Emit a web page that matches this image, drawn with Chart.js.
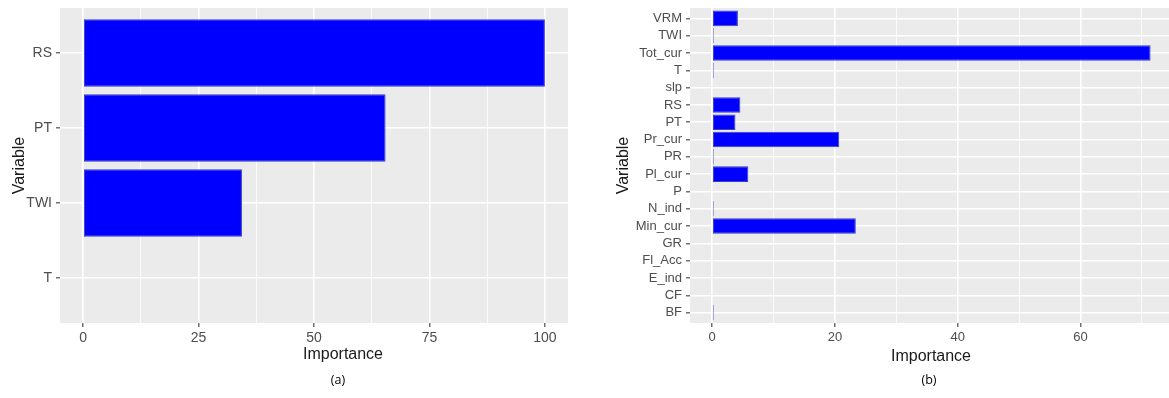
<!DOCTYPE html>
<html>
<head>
<meta charset="utf-8">
<script src="https://cdn.jsdelivr.net/npm/chart.js@4.4.1/dist/chart.umd.min.js"></script>
<style>
  html, body { margin: 0; padding: 0; background: #fff; overflow: hidden; width: 1169px; height: 398px; }
  .box { position: absolute; top: 0; height: 398px; }
  #boxA { left: 0; width: 590px; }
  #boxB { left: 590px; width: 579px; }
  .lbl { position: absolute; white-space: nowrap; transform: translateX(-50%); }
  .xt { font-family: "Liberation Sans", Arial, sans-serif; font-size: 16px; line-height: 19px; color: #1a1a1a; }
  .cap { font-family: "Open Sans", sans-serif; font-size: 12.5px; line-height: 16px; color: #000; }
</style>
</head>
<body>
<div class="box" id="boxA"><canvas id="chartA" width="590" height="398"></canvas></div>
<div class="box" id="boxB"><canvas id="chartB" width="579" height="398"></canvas></div>
<div class="lbl xt" style="left:343px; top:344px;">Importance</div>
<div class="lbl xt" style="left:931px; top:346px;">Importance</div>
<div class="lbl cap" style="left:338px; top:372px;">(a)</div>
<div class="lbl cap" style="left:929px; top:372px;">(b)</div>
<script>
// Panel (a): variable importance, four predictors (top to bottom)
const varsA = ['RS', 'PT', 'TWI', 'T'];
const importanceA = [100, 65.5, 34.4, 0];
const ticksA = [0, 25, 50, 75, 100];

// Panel (b): variable importance, eighteen predictors (top to bottom)
const varsB = ['VRM', 'TWI', 'Tot_cur', 'T', 'slp', 'RS', 'PT', 'Pr_cur', 'PR', 'Pl_cur',
               'P', 'N_ind', 'Min_cur', 'GR', 'Fl_Acc', 'E_ind', 'CF', 'BF'];
const importanceB = [4.2, 0.25, 71.4, 0.25, 0, 4.6, 3.8, 20.7, 0.25, 5.9,
                     0, 0.25, 23.4, 0, 0, 0, 0, 0.25];
const ticksB = [0, 20, 40, 60];

const FONT = '"Liberation Sans", Arial, sans-serif';
const TICK_COLOR = '#4d4d4d';
const PANEL = '#ebebeb';

// grey panel behind the grid
const panelBg = {
  id: 'panelBg',
  beforeDraw(chart) {
    const { ctx, chartArea: a } = chart;
    ctx.save();
    ctx.fillStyle = PANEL;
    ctx.fillRect(a.left, a.top, a.right - a.left, a.bottom - a.top);
    ctx.restore();
  }
};

// value axis with major breaks plus minor lines halfway between them
function valueAxis(majors, min, max, fontSize) {
  const step = majors[1] - majors[0];
  const isMajor = v => majors.some(m => Math.abs(m - v) < 1e-9);
  return {
    type: 'linear',
    min: min,
    max: max,
    offset: false,
    afterBuildTicks(scale) {
      const vals = [];
      const first = majors[0] - step / 2;
      const last = majors[majors.length - 1] + step / 2;
      for (let v = first; v <= last + 1e-9; v += step / 2) {
        if (v >= min && v <= max) vals.push(v);
      }
      scale.ticks = vals.map(v => ({ value: v }));
    },
    afterFit(scale) { scale.height = 75; },
    ticks: {
      autoSkip: false,
      maxRotation: 0,
      padding: 3,
      color: TICK_COLOR,
      font: { family: FONT, size: fontSize },
      callback: v => (isMajor(v) ? String(v) : '')
    },
    grid: {
      offset: false,
      color: '#ffffff',
      lineWidth: c => (c.tick && isMajor(c.tick.value) ? 1.6 : 0.8),
      drawTicks: true,
      tickLength: 4,
      tickWidth: 1.2,
      tickColor: c => (c.tick && isMajor(c.tick.value) ? TICK_COLOR : 'rgba(0,0,0,0)')
    },
    border: { display: false }
  };
}

// category axis drawn as a linear index so the outer padding follows the panel
function variableAxis(cats, pad, fontSize, axisWidth, titleOffset) {
  return {
    type: 'linear',
    reverse: true,
    offset: false,
    min: -pad,
    max: cats.length - 1 + pad,
    afterBuildTicks(scale) {
      scale.ticks = cats.map((_, i) => ({ value: i }));
    },
    afterFit(scale) {
      scale.width = axisWidth;
      scale.paddingTop = 0;
      scale.paddingBottom = 0;
    },
    ticks: {
      autoSkip: false,
      padding: 4,
      color: TICK_COLOR,
      font: { family: FONT, size: fontSize },
      callback: v => cats[v]
    },
    grid: {
      offset: false,
      color: '#ffffff',
      lineWidth: 1.6,
      drawTicks: true,
      tickLength: 4,
      tickWidth: 1.2,
      tickColor: TICK_COLOR
    },
    border: { display: false },
    title: {
      display: true,
      text: 'Variable',
      color: '#1a1a1a',
      font: { family: FONT, size: 16 },
      padding: { top: titleOffset, bottom: 0 }
    }
  };
}

function barSet(cats, values) {
  return {
    data: cats.map((c, i) => ({ x: values[i], y: i })),
    backgroundColor: '#0000ff',
    borderColor: '#3c3cc0',
    borderWidth: 1,
    borderSkipped: false,
    barPercentage: 0.9,
    categoryPercentage: 1.0
  };
}

function makeChart(id, cats, values, xAxis, yAxis, padRight) {
  return new Chart(document.getElementById(id), {
    type: 'bar',
    data: { datasets: [barSet(cats, values)] },
    options: {
      indexAxis: 'y',
      responsive: false,
      animation: false,
      layout: { padding: { top: 8, right: padRight, bottom: 0, left: 0 } },
      plugins: { legend: { display: false }, tooltip: { enabled: false } },
      scales: { x: xAxis, y: yAxis }
    },
    plugins: [panelBg]
  });
}

makeChart('chartA', varsA, importanceA,
  valueAxis(ticksA, -5, 105, 14),
  variableAxis(varsA, 0.6, 14, 60, 10),
  22);

makeChart('chartB', varsB, importanceB,
  valueAxis(ticksB, -3.6, 74.4, 13),
  variableAxis(varsB, 0.6, 13, 100, 24),
  0);
</script>
</body>
</html>
